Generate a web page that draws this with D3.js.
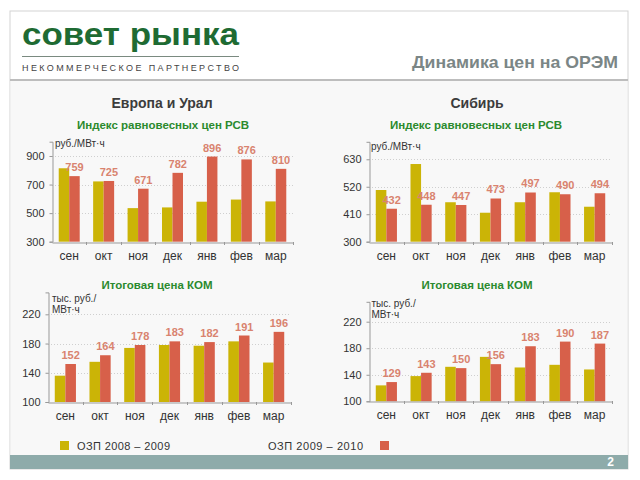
<!DOCTYPE html>
<html><head><meta charset="utf-8">
<script src="https://cdn.jsdelivr.net/npm/d3@7"></script>
<style>
html,body{margin:0;padding:0;background:#fff;}
svg{display:block;font-family:"Liberation Sans",Arial,sans-serif;}
</style></head>
<body>
<script>
const months = ["сен","окт","ноя","дек","янв","фев","мар"];
const seriesNames = ["ОЗП 2008 – 2009","ОЗП 2009 – 2010"];
const euRsv0809 = [814, 722, 535, 540, 580, 595, 582];
const euRsv0910 = [759, 725, 671, 782, 896, 876, 810];
const sibRsv0809 = [507, 611, 458, 416, 458, 498, 440];
const sibRsv0910 = [432, 448, 447, 473, 497, 490, 494];
const euKom0809 = [136, 155, 174, 178, 177, 183, 154];
const euKom0910 = [152, 164, 178, 183, 182, 191, 196];
const sibKom0809 = [124, 138, 152, 167, 151, 155, 148];
const sibKom0910 = [129, 143, 150, 156, 183, 190, 187];
const euRsvTicks = [300, 500, 700, 900];
const sibRsvTicks = [300, 410, 520, 630];
const komTicks = [100, 140, 180, 220];

const W = 640, H = 480;
const C_Y = "#cbb406", C_R = "#d7604a", C_LBL = "#d9836f", C_GREEN = "#2b8a2e";
const svg = d3.select("body").append("svg").attr("width", W).attr("height", H);

// frame and backgrounds
svg.append("rect").attr("x",10).attr("y",11).attr("width",618).attr("height",458)
  .attr("fill","#fff").attr("stroke","#d3d3d3");
svg.append("rect").attr("x",10.5).attr("y",81).attr("width",617).attr("height",374).attr("fill","#f8f8f8");
svg.append("line").attr("x1",10).attr("x2",628).attr("y1",80).attr("y2",80)
  .attr("stroke","#bdbdbd").attr("stroke-width",2);
svg.append("rect").attr("x",10).attr("y",455).attr("width",618).attr("height",14).attr("fill","#8eabaa");
svg.append("text").attr("x",614).attr("y",466).attr("text-anchor","end")
  .attr("font-size",12).attr("font-weight","bold").attr("fill","#fff").text("2");

// header
svg.append("text").attr("x",22).attr("y",45).attr("font-size",31).attr("font-weight","bold")
  .attr("fill","#1e6b33").attr("textLength",217).attr("lengthAdjust","spacingAndGlyphs").text("совет рынка");
svg.append("line").attr("x1",22).attr("x2",239).attr("y1",56.5).attr("y2",56.5).attr("stroke","#7a8a80").attr("stroke-width",1);
svg.append("text").attr("x",22).attr("y",71).attr("font-size",9).attr("fill","#444")
  .attr("textLength",217).attr("lengthAdjust","spacing").text("НЕКОММЕРЧЕСКОЕ ПАРТНЕРСТВО");
svg.append("text").attr("x",412).attr("y",67.5).attr("font-size",17)
  .attr("font-weight","bold").attr("fill","#7b8686")
  .attr("textLength",206).attr("lengthAdjust","spacingAndGlyphs").text("Динамика цен на ОРЭМ");

// section titles
svg.append("text").attr("x",162).attr("y",108).attr("text-anchor","middle").attr("font-size",14)
  .attr("font-weight","bold").attr("fill","#3c3c3c").text("Европа и Урал");
svg.append("text").attr("x",477).attr("y",108).attr("text-anchor","middle").attr("font-size",14)
  .attr("font-weight","bold").attr("fill","#3c3c3c").text("Сибирь");

function panel(o){
  const g = svg.append("g");
  const y = d3.scaleLinear().domain(o.domain).range([o.yb, o.yt]);
  const x0 = d3.scaleBand().domain(months).range([o.xl, o.xr]).padding(0);
  const x1 = d3.scaleBand().domain([0,1]).range([0, x0.bandwidth()]).paddingInner(0).paddingOuter(0.64);
  // title
  g.append("text").attr("x",o.tx).attr("y",o.ty).attr("text-anchor","middle").attr("font-size",11.5)
    .attr("font-weight","bold").attr("fill",C_GREEN).text(o.title);
  // unit
  o.unit.forEach((u,i)=>{
    g.append("text").attr("x",o.ux).attr("y",o.uy + i*11).attr("font-size",10).attr("fill","#333").text(u);
  });
  // grid
  g.selectAll(".grid").data(o.ticks.slice(1)).join("line")
    .attr("x1",o.xl).attr("x2",o.xr).attr("y1",d=>Math.round(y(d))+0.5).attr("y2",d=>Math.round(y(d))+0.5)
    .attr("stroke","#cfcfcf").attr("stroke-dasharray","1,2");
  // bars
  const s = [o.a, o.b];
  months.forEach((m,i)=>{
    [0,1].forEach(k=>{
      g.append("rect").attr("x",x0(m)+x1(k)).attr("width",x1.bandwidth())
        .attr("y",y(s[k][i])).attr("height",o.yb - y(s[k][i])).attr("fill",k? C_R : C_Y);
    });
    g.append("text").attr("x",x0(m)+x1(1)+x1.bandwidth()/2).attr("y",y(s[1][i])-5)
      .attr("text-anchor","middle").attr("font-size",11).attr("font-weight","bold").attr("fill",C_LBL)
      .text(s[1][i]);
  });
  // y axis
  const ya = g.append("g").attr("transform",`translate(${Math.round(o.xl)+0.5},0)`)
    .call(d3.axisLeft(y).tickValues(o.ticks).tickSize(3).tickPadding(5));
  ya.select(".domain").attr("stroke","#999");
  ya.selectAll(".tick line").attr("stroke","#999");
  ya.selectAll("text").attr("font-size",11).attr("fill","#333").attr("font-family","Liberation Sans, Arial, sans-serif");
  // x axis
  const xa = g.append("g").attr("transform",`translate(0,${Math.round(o.yb)+0.5})`)
    .call(d3.axisBottom(x0).tickSize(0).tickPadding(9));
  xa.select(".domain").attr("stroke","#999");
  xa.selectAll("text").attr("font-size",12).attr("fill","#333").attr("font-family","Liberation Sans, Arial, sans-serif");
  g.selectAll(".xt").data(months.slice(1).concat(["end"])).join("line")
    .attr("x1",(d,i)=>Math.round(o.xl + x0.step()*(i+1))+0.5).attr("x2",(d,i)=>Math.round(o.xl + x0.step()*(i+1))+0.5)
    .attr("y1",Math.round(o.yb)).attr("y2",Math.round(o.yb)+3).attr("stroke","#999");
}

panel({title:"Индекс равновесных цен РСВ", tx:163, ty:129, unit:["руб./МВт·ч"], ux:55, uy:147,
  a:euRsv0809, b:euRsv0910, domain:[300,1000], yb:241.7, yt:141.7, xl:52, xr:293, ticks:euRsvTicks});
panel({title:"Индекс равновесных цен РСВ", tx:476, ty:129, unit:["руб./МВт·ч"], ux:371, uy:150,
  a:sibRsv0809, b:sibRsv0910, domain:[300,700], yb:241.7, yt:141.8, xl:369, xr:612, ticks:sibRsvTicks});
panel({title:"Итоговая цена КОМ", tx:157, ty:289, unit:["тыс. руб./","МВт·ч"], ux:52, uy:301.5,
  a:euKom0809, b:euKom0910, domain:[100,250], yb:402, yt:292.4, xl:48, xr:291, ticks:komTicks});
panel({title:"Итоговая цена КОМ", tx:477, ty:289, unit:["тыс. руб./","МВт·ч"], ux:371.5, uy:307,
  a:sibKom0809, b:sibKom0910, domain:[100,250], yb:401.3, yt:301.8, xl:369, xr:612, ticks:komTicks});

// legend
svg.append("rect").attr("x",60).attr("y",441).attr("width",9).attr("height",9).attr("fill",C_Y);
svg.append("text").attr("x",77).attr("y",449.5).attr("font-size",11).attr("fill","#333")
  .attr("textLength",93).attr("lengthAdjust","spacing").text(seriesNames[0]);
svg.append("text").attr("x",268).attr("y",449.5).attr("font-size",11).attr("fill","#333")
  .attr("textLength",95).attr("lengthAdjust","spacing").text(seriesNames[1]);
svg.append("rect").attr("x",380).attr("y",441).attr("width",9).attr("height",9).attr("fill",C_R);
</script>
</body></html>
